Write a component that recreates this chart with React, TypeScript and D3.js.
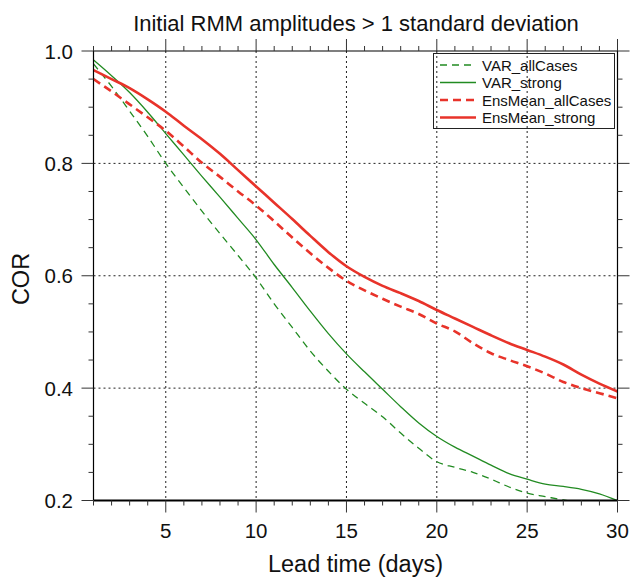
import React from "react";
import * as d3 from "d3";

const leadDays = d3.range(1, 31);
const varAllCases = [0.977, 0.937, 0.893, 0.848, 0.800, 0.757, 0.715, 0.675, 0.636, 0.596, 0.550, 0.508, 0.466, 0.430, 0.398, 0.373, 0.349, 0.320, 0.293, 0.269, 0.259, 0.250, 0.238, 0.224, 0.213, 0.207, 0.201, 0.197, 0.194, 0.190];
const varStrong = [0.984, 0.956, 0.926, 0.891, 0.853, 0.815, 0.777, 0.740, 0.702, 0.664, 0.620, 0.579, 0.537, 0.497, 0.461, 0.429, 0.398, 0.367, 0.338, 0.314, 0.295, 0.279, 0.263, 0.248, 0.238, 0.229, 0.225, 0.220, 0.212, 0.200];
const ensAllCases = [0.950, 0.928, 0.905, 0.882, 0.858, 0.830, 0.801, 0.776, 0.750, 0.725, 0.697, 0.668, 0.640, 0.614, 0.591, 0.574, 0.559, 0.545, 0.532, 0.515, 0.501, 0.480, 0.462, 0.450, 0.439, 0.426, 0.411, 0.400, 0.391, 0.382];
const ensStrong = [0.966, 0.950, 0.934, 0.914, 0.892, 0.867, 0.843, 0.817, 0.788, 0.759, 0.730, 0.701, 0.671, 0.642, 0.617, 0.598, 0.582, 0.569, 0.555, 0.539, 0.524, 0.509, 0.494, 0.480, 0.468, 0.456, 0.442, 0.424, 0.408, 0.394];

const seriesNames = ["VAR_allCases", "VAR_strong", "EnsMean_allCases", "EnsMean_strong"];
const xTicks = [5, 10, 15, 20, 25, 30];
const yTicks = [0.2, 0.4, 0.6, 0.8, 1.0];

const title = "Initial RMM amplitudes > 1 standard deviation";
const xLabel = "Lead time (days)";
const yLabel = "COR";

export default function App() {
  const W = 631, H = 578;
  const L = 93.5, R = 617.5, T = 51, B = 500.5;
  const x = d3.scaleLinear().domain([1, 30]).range([L, R]);
  const y = d3.scaleLinear().domain([0.2, 1.0]).range([B, T]);
  const green = "#228B22";
  const red = "#E8332A";
  const styles = [
    { color: green, width: 1.3, dash: "7,5" },
    { color: green, width: 1.3, dash: "" },
    { color: red, width: 2.6, dash: "8,5" },
    { color: red, width: 2.6, dash: "" },
  ];
  const data = [varAllCases, varStrong, ensAllCases, ensStrong];
  const line = (vals: number[]) =>
    d3.line<number>().curve(d3.curveMonotoneX).x((_, i) => x(leadDays[i])).y((v) => y(v))(vals) || "";
  const font = "'Liberation Sans', Arial, Helvetica, sans-serif";
  const minorX = d3.range(1, 31);
  const minorY = d3.range(0.2, 1.0001, 0.05);
  const gridX = xTicks.filter((t) => t < 30);
  const gridY = yTicks.filter((t) => t > 0.2 && t < 1.0);
  const legX = 433.5, legY = 53.5, legW = 181, legH = 75;
  const rowY = [65, 82.5, 100, 117.5];

  return (
    <div style={{ position: "absolute", left: 0, top: 0 }}>
      <svg width={W} height={H} style={{ display: "block", background: "#fff" }} fontFamily={font}>
        <defs>
          <clipPath id="plotClip">
            <rect x={L} y={T} width={R - L} height={B - T} />
          </clipPath>
        </defs>
        <rect x={0} y={0} width={W} height={H} fill="#fff" />
        {gridX.map((t) => (
          <line key={"gx" + t} x1={x(t)} x2={x(t)} y1={T} y2={B} stroke="#222" strokeWidth={1} strokeDasharray="2,3" />
        ))}
        {gridY.map((t) => (
          <line key={"gy" + t} x1={L} x2={R} y1={y(t)} y2={y(t)} stroke="#222" strokeWidth={1} strokeDasharray="2,3" />
        ))}
        <g clipPath="url(#plotClip)">
          {data.map((vals, i) => (
            <path key={i} d={line(vals)} fill="none" stroke={styles[i].color} strokeWidth={styles[i].width}
              strokeDasharray={styles[i].dash || undefined} strokeLinejoin="round" />
          ))}
        </g>
        <line x1={L} x2={L} y1={T} y2={B} stroke="#000" strokeWidth={1.2} />
        <line x1={R} x2={R} y1={T} y2={B} stroke="#000" strokeWidth={1.2} />
        <line x1={L} x2={R} y1={T} y2={T} stroke="#000" strokeWidth={1.2} />
        <line x1={L} x2={R} y1={B} y2={B} stroke="#000" strokeWidth={2} />
        {minorX.map((t) => {
          const major = xTicks.includes(t);
          const len = major ? 12 : 5;
          return (
            <g key={"tx" + t} stroke="#333" strokeWidth={1}>
              <line x1={x(t)} x2={x(t)} y1={B} y2={B + len} />
              <line x1={x(t)} x2={x(t)} y1={T} y2={T - len} />
            </g>
          );
        })}
        {minorY.map((t, i) => {
          const major = i % 4 === 0;
          const len = major ? 12 : 5;
          return (
            <g key={"ty" + i} stroke="#333" strokeWidth={1}>
              <line x1={L} x2={L - len} y1={y(t)} y2={y(t)} />
              <line x1={R} x2={R + len} y1={y(t)} y2={y(t)} />
            </g>
          );
        })}
        {xTicks.map((t) => (
          <text key={"lx" + t} x={x(t)} y={538} textAnchor="middle" fontSize={20.5} fill="#111">{t}</text>
        ))}
        {yTicks.map((t) => (
          <text key={"ly" + t} x={73} y={y(t) + 7.5} textAnchor="end" fontSize={20.5} fill="#111">{t.toFixed(1)}</text>
        ))}
        <text x={356} y={30.5} textAnchor="middle" fontSize={22} fill="#111">{title}</text>
        <text x={355.5} y={572} textAnchor="middle" fontSize={23.5} fill="#111">{xLabel}</text>
        <text transform={`translate(28.5,${279}) rotate(-90)`} textAnchor="middle" fontSize={23.5} fill="#111">{yLabel}</text>
        <rect x={legX} y={legY} width={legW} height={legH} fill="none" stroke="#222" strokeWidth={1} />
        {seriesNames.map((n, i) => (
          <g key={"leg" + i}>
            <line x1={440} x2={476} y1={rowY[i]} y2={rowY[i]} stroke={styles[i].color} strokeWidth={styles[i].width}
              strokeDasharray={styles[i].dash || undefined} />
            <text x={482} y={rowY[i] + 5.5} fontSize={15} fill="#111">{n}</text>
          </g>
        ))}
      </svg>
    </div>
  );
}
